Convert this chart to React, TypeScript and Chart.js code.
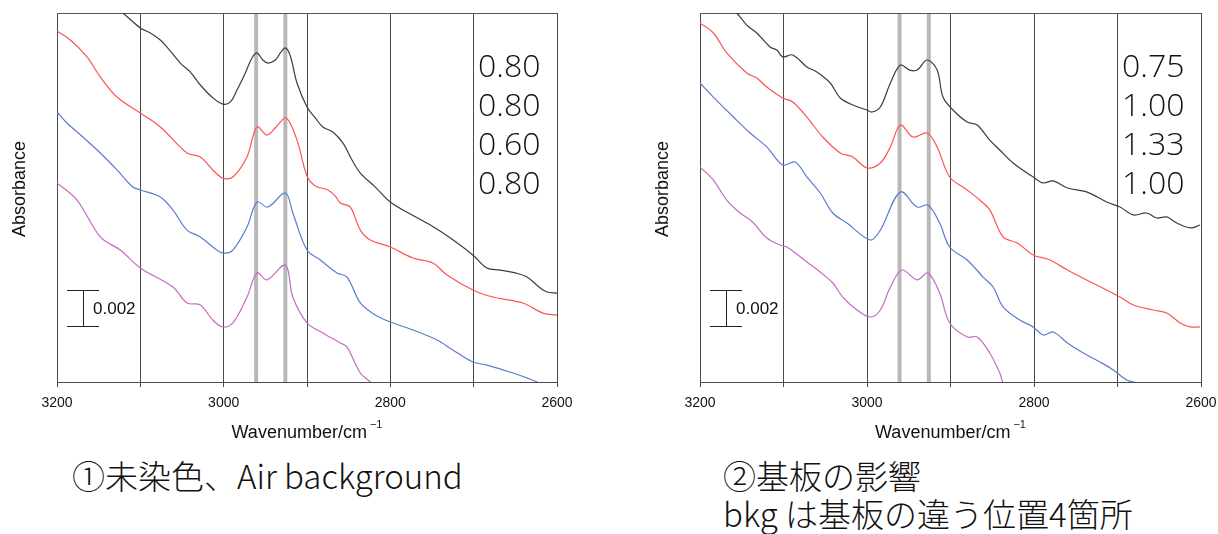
import React, { useEffect, useRef } from 'react';
import { Chart, registerables } from 'chart.js';
Chart.register(...registerables);

// ---- axis / annotation values ----
const xMin = 2600;
const xMax = 3200;
const xStep = 100;
const labeledTicks = [3200, 3000, 2800, 2600];
const markerBands = [2961, 2926];
const yMin = 0;
const yMax = 20.5; // in units of 0.001 absorbance
const scaleBarFrom = 3.1;
const scaleBarSize = 2; // 0.002
const scaleBarLabel = '0.002';
const xTitle = 'Wavenumber/cm';
const xTitleSup = '\u22121';
const yTitle = 'Absorbance';

const seriesColors = ['#3c3c3c', '#ff5252', '#5a7ccc', '#c46ac4'];

const leftFactors = ['0.80', '0.80', '0.60', '0.80'];
const rightFactors = ['0.75', '1.00', '1.33', '1.00'];
const leftCaption = '①未染色、Air background';
const rightCaption1 = '②基板の影響';
const rightCaption2 = 'bkg は基板の違う位置4箇所';

// ---- left panel (① Air background) ----
const leftBlackWn = [3200, 3160, 3121, 3100, 3088, 3076, 3068, 3052, 3040, 3028, 3014, 3001, 2992, 2984, 2974, 2966, 2960, 2953, 2947, 2938, 2932, 2926, 2920, 2912, 2900, 2890, 2881, 2869, 2857, 2846, 2836, 2818, 2800, 2776, 2752, 2728, 2701, 2684, 2668, 2650, 2636, 2620, 2612, 2600];
const leftBlackAbs = [23.3, 21.9, 20.5, 19.67, 19.39, 19.0, 18.61, 17.72, 17.22, 16.5, 15.83, 15.44, 15.56, 16.22, 17.17, 18.0, 18.28, 17.89, 17.72, 17.89, 18.28, 18.56, 18.11, 16.61, 15.28, 14.67, 14.17, 13.89, 13.28, 12.33, 11.61, 10.83, 10.0, 9.33, 8.72, 8.0, 7.06, 6.33, 6.22, 6.06, 5.83, 5.22, 5.0, 4.94];

const leftRedWn = [3200, 3184, 3164, 3148, 3128, 3100, 3076, 3044, 3028, 3013, 3001, 2989, 2972, 2960, 2948, 2937, 2925, 2912, 2900, 2890, 2875, 2866, 2860, 2848, 2836, 2824, 2800, 2773, 2749, 2732, 2701, 2677, 2641, 2617, 2600];
const leftRedAbs = [19.5, 19.0, 18.06, 16.94, 15.83, 14.94, 14.17, 12.72, 12.5, 11.78, 11.33, 11.39, 12.5, 14.17, 13.72, 14.17, 14.67, 13.44, 11.44, 10.89, 10.67, 10.33, 9.94, 9.72, 8.44, 7.89, 7.5, 6.89, 6.61, 5.94, 5.11, 4.72, 4.39, 3.83, 3.72];

const leftBlueWn = [3200, 3188, 3169, 3148, 3128, 3109, 3100, 3076, 3061, 3044, 3028, 3013, 3001, 2989, 2972, 2960, 2947, 2926, 2917, 2900, 2884, 2864, 2852, 2836, 2818, 2800, 2773, 2744, 2725, 2701, 2684, 2653, 2624, 2608];
const leftBlueAbs = [15.0, 14.39, 13.61, 12.72, 11.78, 10.83, 10.67, 10.28, 9.56, 8.44, 8.06, 7.5, 7.17, 7.33, 8.61, 10.0, 9.72, 10.5, 9.39, 7.33, 6.78, 6.06, 5.83, 4.39, 3.72, 3.33, 2.89, 2.33, 1.78, 1.11, 0.94, 0.5, 0.0, -0.44];

const leftPurpleWn = [3200, 3176, 3148, 3124, 3100, 3061, 3044, 3028, 3013, 3001, 2989, 2972, 2960, 2948, 2926, 2917, 2900, 2881, 2860, 2852, 2836, 2824, 2812];
const leftPurpleAbs = [11.06, 10.11, 8.06, 7.33, 6.33, 5.28, 4.39, 4.28, 3.44, 3.06, 3.28, 4.72, 6.06, 5.67, 6.5, 4.72, 3.28, 2.72, 2.17, 1.94, 0.5, 0.0, -0.56];

// ---- right panel (② substrate) ----
const rightBlackWn = [3200, 3180, 3156, 3144, 3132, 3116, 3108, 3101, 3089, 3072, 3060, 3044, 3032, 3017, 3000, 2994, 2984, 2972, 2960, 2949, 2940, 2928, 2916, 2909, 2897, 2880, 2868, 2853, 2841, 2825, 2801, 2789, 2777, 2760, 2737, 2713, 2697, 2681, 2665, 2653, 2641, 2629, 2613, 2601];
const rightBlackAbs = [22.6, 21.6, 20.5, 19.83, 19.39, 18.61, 18.44, 18.06, 18.17, 17.5, 17.22, 16.61, 15.78, 15.39, 15.11, 15.0, 15.28, 16.61, 17.61, 17.33, 17.33, 17.89, 17.33, 15.83, 15.11, 14.44, 14.28, 13.44, 12.89, 12.17, 11.39, 11.06, 11.17, 10.78, 10.56, 10.0, 9.72, 9.28, 9.39, 9.11, 9.17, 8.83, 8.56, 8.72];

const rightRedWn = [3200, 3184, 3168, 3144, 3132, 3120, 3101, 3089, 3072, 3053, 3032, 3017, 3000, 2984, 2972, 2960, 2945, 2928, 2916, 2901, 2880, 2865, 2853, 2837, 2820, 2801, 2781, 2760, 2737, 2713, 2697, 2681, 2657, 2641, 2625, 2613, 2601];
const rightRedAbs = [19.94, 19.39, 18.28, 17.17, 16.89, 16.39, 15.78, 15.56, 14.72, 13.61, 12.72, 12.5, 11.89, 12.17, 13.06, 14.28, 13.61, 13.83, 13.06, 11.39, 10.67, 10.11, 9.56, 8.06, 7.72, 7.06, 6.78, 6.22, 5.67, 5.11, 4.72, 4.28, 4.0, 3.83, 3.28, 3.06, 3.06];

const rightBlueWn = [3200, 3184, 3160, 3140, 3120, 3101, 3086, 3072, 3056, 3041, 3024, 2996, 2984, 2960, 2940, 2927, 2913, 2901, 2880, 2861, 2849, 2837, 2817, 2801, 2789, 2777, 2760, 2741, 2721, 2705, 2689, 2677, 2661];
const rightBlueAbs = [16.61, 15.83, 14.72, 13.83, 13.06, 12.06, 12.22, 11.39, 10.5, 9.39, 8.83, 7.89, 8.44, 10.56, 9.72, 9.83, 8.83, 7.5, 6.78, 5.83, 5.28, 4.17, 3.44, 3.06, 2.61, 2.78, 2.17, 1.61, 1.11, 0.67, 0.11, -0.06, -0.56];

const rightPurpleWn = [3200, 3184, 3168, 3152, 3137, 3120, 3104, 3096, 3089, 3072, 3056, 3041, 3029, 3012, 2996, 2984, 2972, 2958, 2940, 2927, 2913, 2901, 2880, 2868, 2853, 2841, 2837, 2829];
const rightPurpleAbs = [11.94, 11.22, 10.11, 9.39, 8.89, 8.0, 7.61, 7.5, 7.28, 6.67, 6.11, 5.5, 4.72, 4.0, 3.61, 4.0, 5.28, 6.22, 5.67, 6.06, 4.94, 3.28, 2.5, 2.5, 1.61, 0.5, -0.06, -0.56];

const leftSeries = [
  [leftBlackWn, leftBlackAbs],
  [leftRedWn, leftRedAbs],
  [leftBlueWn, leftBlueAbs],
  [leftPurpleWn, leftPurpleAbs],
];
const rightSeries = [
  [rightBlackWn, rightBlackAbs],
  [rightRedWn, rightRedAbs],
  [rightBlueWn, rightBlueAbs],
  [rightPurpleWn, rightPurpleAbs],
];

const SANS = '"Liberation Sans", Arial, sans-serif';

const panelPlugin = {
  id: 'panelDecor',
  beforeDatasetsDraw(chart: any) {
    const { ctx, chartArea: a, scales } = chart;
    const x = scales.x;
    ctx.save();
    ctx.beginPath();
    ctx.rect(a.left, a.top, a.right - a.left, a.bottom - a.top);
    ctx.clip();
    ctx.strokeStyle = 'rgba(160,160,160,0.75)';
    ctx.lineWidth = 4;
    for (const b of markerBands) {
      const px = x.getPixelForValue(b);
      ctx.beginPath();
      ctx.moveTo(px, a.top);
      ctx.lineTo(px, a.bottom);
      ctx.stroke();
    }
    ctx.restore();
    ctx.save();
    ctx.strokeStyle = '#555';
    ctx.lineWidth = 1;
    ctx.beginPath();
    ctx.moveTo(a.left, a.top + 0.5);
    ctx.lineTo(a.right, a.top + 0.5);
    ctx.stroke();
    ctx.restore();
  },
  afterDraw(chart: any) {
    const { ctx, chartArea: a, scales } = chart;
    const y = scales.y;
    ctx.save();
    // scale bar
    const y0 = Math.round(y.getPixelForValue(scaleBarFrom)) + 0.5;
    const y1 = Math.round(y.getPixelForValue(scaleBarFrom + scaleBarSize)) + 0.5;
    const bx = a.left + 26.5;
    ctx.strokeStyle = '#222';
    ctx.lineWidth = 1;
    ctx.beginPath();
    ctx.moveTo(bx, y0); ctx.lineTo(bx, y1);
    ctx.moveTo(a.left + 10, y0); ctx.lineTo(a.left + 42, y0);
    ctx.moveTo(a.left + 10, y1); ctx.lineTo(a.left + 42, y1);
    ctx.stroke();
    ctx.fillStyle = '#111';
    ctx.font = `17px ${SANS}`;
    ctx.textAlign = 'left';
    ctx.textBaseline = 'middle';
    ctx.fillText(scaleBarLabel, a.left + 36, (y0 + y1) / 2 + 1);
    // y title
    ctx.save();
    ctx.translate(a.left - 37, 189);
    ctx.rotate(-Math.PI / 2);
    ctx.font = `18px ${SANS}`;
    ctx.textAlign = 'center';
    ctx.textBaseline = 'middle';
    ctx.fillText(yTitle, 0, 0);
    ctx.restore();
    // x title with superscript
    ctx.font = `18px ${SANS}`;
    const mainW = ctx.measureText(xTitle).width;
    ctx.font = `11px ${SANS}`;
    const supW = ctx.measureText(xTitleSup).width + 3;
    const cx = (a.left + a.right) / 2;
    const startX = cx - (mainW + supW) / 2;
    ctx.textAlign = 'left';
    ctx.textBaseline = 'alphabetic';
    ctx.font = `18px ${SANS}`;
    ctx.fillText(xTitle, startX, 438);
    ctx.font = `11px ${SANS}`;
    ctx.fillText(xTitleSup, startX + mainW + 3, 428);
    ctx.restore();
  },
};

function buildConfig(series: any[], padLeft: number, padRight: number) {
  return {
    type: 'line' as const,
    data: {
      datasets: series.map(([wn, ab]: any, i: number) => ({
        data: wn.map((w: number, k: number) => ({ x: w, y: ab[k] })),
        borderColor: seriesColors[i],
        borderWidth: 1.2,
        pointRadius: 0,
        tension: 0.35,
        fill: false,
      })),
    },
    options: {
      animation: false as const,
      responsive: false,
      events: [],
      layout: { padding: { left: padLeft, right: padRight, top: 13, bottom: 0 } },
      plugins: { legend: { display: false }, tooltip: { enabled: false } },
      scales: {
        x: {
          type: 'linear' as const,
          reverse: true,
          min: xMin,
          max: xMax,
          afterFit: (s: any) => { s.height = 68; },
          afterBuildTicks: (s: any) => {
            const t = [];
            for (let v = xMax; v >= xMin; v -= xStep) t.push({ value: v });
            s.ticks = t;
          },
          ticks: {
            autoSkip: false,
            maxRotation: 0,
            padding: 8,
            color: '#111',
            font: { family: SANS, size: 14 },
            callback: (v: any) => (labeledTicks.includes(Number(v)) ? String(v) : ''),
          },
          grid: { color: '#4a4a4a', lineWidth: 1, tickLength: 5, drawOnChartArea: true, drawTicks: true },
          border: { display: true, color: '#4a4a4a', width: 1 },
        },
        y: {
          type: 'linear' as const,
          display: false,
          min: yMin,
          max: yMax,
        },
      },
    },
    plugins: [panelPlugin],
  };
}

export default function App() {
  const leftRef = useRef<HTMLCanvasElement>(null);
  const rightRef = useRef<HTMLCanvasElement>(null);

  useEffect(() => {
    const c1 = new Chart(leftRef.current as HTMLCanvasElement, buildConfig(leftSeries, 57, 43) as any);
    const c2 = new Chart(rightRef.current as HTMLCanvasElement, buildConfig(rightSeries, 60, 39) as any);
    return () => { c1.destroy(); c2.destroy(); };
  }, []);

  const factorStyle = (left: number): React.CSSProperties => ({
    position: 'absolute', left, top: 45, fontFamily: '"Open Sans", "Noto Sans", sans-serif',
    fontSize: 32, fontWeight: 300, lineHeight: '39px', color: '#111', whiteSpace: 'nowrap',
  });
  const captionStyle = (left: number): React.CSSProperties => ({
    position: 'absolute', left, top: 456, fontFamily: '"Noto Sans CJK JP", "Noto Sans", sans-serif',
    fontSize: 33, fontWeight: 300, lineHeight: '38px', color: '#111', whiteSpace: 'nowrap',
  });

  return (
    <div style={{ position: 'absolute', left: 0, top: 0, width: 1218, height: 534, background: '#fff', overflow: 'hidden' }}>
      <canvas ref={leftRef} width={600} height={450} style={{ position: 'absolute', left: 0, top: 0, width: 600, height: 450 }} />
      <canvas ref={rightRef} width={600} height={450} style={{ position: 'absolute', left: 640, top: 0, width: 600, height: 450 }} />
      <div style={factorStyle(478)}>{leftFactors.map((f, i) => <div key={i}>{f}</div>)}</div>
      <div style={factorStyle(1122)}>{rightFactors.map((f, i) => <div key={i}>{f}</div>)}</div>
      <div style={captionStyle(72)}>{leftCaption}</div>
      <div style={captionStyle(723)}>
        <div>{rightCaption1}</div>
        <div>{rightCaption2}</div>
      </div>
    </div>
  );
}
